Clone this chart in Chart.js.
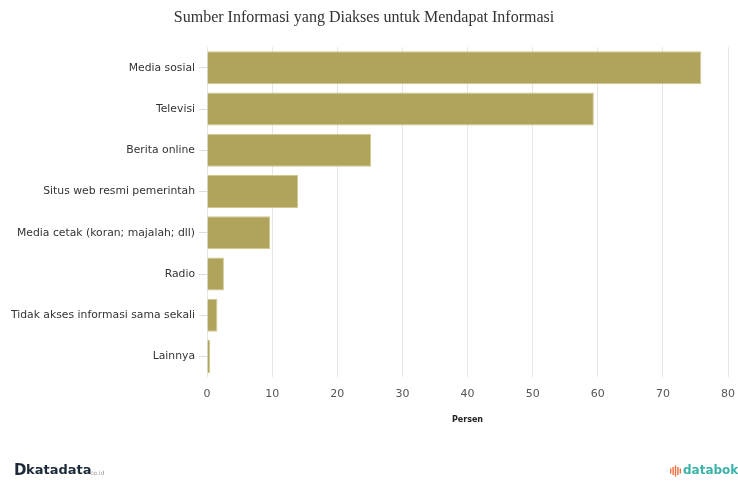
<!DOCTYPE html>
<html lang="id">
<head>
<meta charset="UTF-8">
<title>Sumber Informasi</title>
<script src="https://cdn.jsdelivr.net/npm/chart.js"></script>
<style>
  html, body { margin: 0; padding: 0; background: #fff; }
  #wrap { width: 738px; height: 481px; }
</style>
</head>
<body>
<div id="wrap"><canvas id="grafik" width="738" height="481"></canvas></div>
<script>
// data
const kategori = [
  "Media sosial",
  "Televisi",
  "Berita online",
  "Situs web resmi pemerintah",
  "Media cetak (koran; majalah; dll)",
  "Radio",
  "Tidak akses informasi sama sekali",
  "Lainnya"
];
const persen = [75.9, 59.4, 25.2, 14.0, 9.7, 2.6, 1.6, 0.5];
const tickX = [0, 10, 20, 30, 40, 50, 60, 70, 80];

// logo katadata & databoks di bawah
const logoPlugin = {
  id: 'logo',
  afterDraw(chart) {
    const ctx = chart.ctx;
    ctx.save();
    ctx.textBaseline = 'middle';
    ctx.font = 'bold 15px "DejaVu Sans"';
    ctx.fillStyle = '#1d2a3a';
    ctx.fillText('D', 14, 471);
    ctx.font = 'bold 13px "DejaVu Sans"';
    ctx.fillText('katadata', 26, 471);
    ctx.font = '6px "DejaVu Sans"';
    ctx.fillStyle = '#999';
    ctx.fillText('co.id', 90, 473);
    // databoks
    ctx.fillStyle = '#f26d3d';
    const hs = [5, 8, 11, 8, 5];
    for (let i = 0; i < hs.length; i++) {
      ctx.fillRect(670 + i * 2.4, 471 - hs[i] / 2, 1.4, hs[i]);
    }
    ctx.font = 'bold 12px "DejaVu Sans"';
    ctx.fillStyle = '#3bb3a9';
    ctx.fillText('databoks', 683, 471);
    ctx.restore();
  }
};

new Chart(document.getElementById('grafik'), {
  type: 'bar',
  data: {
    labels: kategori,
    datasets: [{
      data: persen,
      backgroundColor: '#b0a35c',
      borderColor: '#d2c88f',
      borderWidth: 1,
      barPercentage: 0.8,
      categoryPercentage: 1
    }]
  },
  options: {
    indexAxis: 'y',
    responsive: false,
    animation: false,
    layout: { padding: { left: 0, right: 10, top: 0, bottom: 52 } },
    plugins: {
      legend: { display: false },
      tooltip: { enabled: false },
      title: {
        display: true,
        text: 'Sumber Informasi yang Diakses untuk Mendapat Informasi',
        color: '#333',
        font: { family: '"Liberation Serif", "Times New Roman", serif', size: 16, weight: 'normal' },
        padding: { top: 8, bottom: 20 }
      }
    },
    scales: {
      x: {
        min: 0,
        max: 80,
        afterBuildTicks(s) { s.ticks = tickX.map(v => ({ value: v })); },
        afterFit(s) { s.paddingRight = 0; s.paddingLeft = 0; },
        grid: { color: '#e6e6e6', drawTicks: false },
        border: { display: false },
        ticks: {
          color: '#555',
          padding: 10,
          font: { family: '"DejaVu Sans", Verdana, sans-serif', size: 11 }
        },
        title: {
          display: true,
          text: 'Persen',
          color: '#222',
          font: { family: '"DejaVu Sans", Verdana, sans-serif', size: 8, weight: 'bold' },
          padding: { top: 5 }
        }
      },
      y: {
        afterFit(s) { s.width = 207; },
        grid: { drawOnChartArea: false, tickLength: 8, tickColor: '#ddd', offset: false },
        border: { display: false },
        ticks: {
          color: '#333',
          padding: 4,
          font: { family: '"DejaVu Sans", Verdana, sans-serif', size: 10.8 }
        }
      }
    }
  },
  plugins: [logoPlugin]
});
</script>
</body>
</html>
